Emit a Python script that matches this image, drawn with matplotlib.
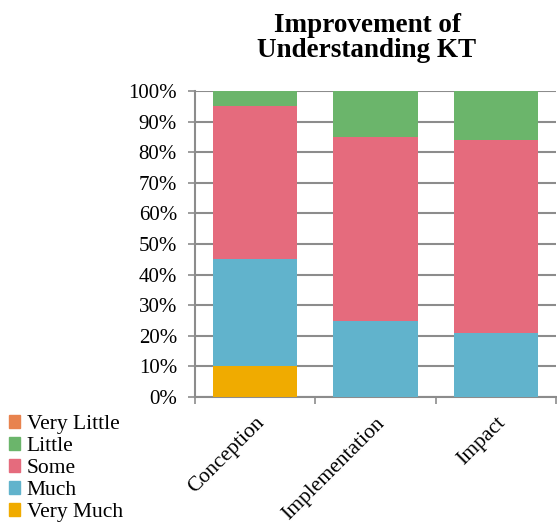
import matplotlib.pyplot as plt
import numpy as np
from matplotlib.patches import Patch
from matplotlib.ticker import PercentFormatter

plt.rcParams['font.family'] = ['Liberation Serif', 'DejaVu Serif']

categories = ['Conception', 'Implementation', 'Impact']
levels = ['Very Much', 'Much', 'Some', 'Little', 'Very Little']
very_much = [10, 0, 0]
much = [35, 25, 21]
some = [50, 60, 63]
little = [5, 15, 16]
very_little = [0, 0, 0]
colors = ['#F0AB00', '#61B3CC', '#E56B7D', '#6BB56B', '#E8834E']

series = [very_much, much, some, little, very_little]

fig = plt.figure(figsize=(5.57, 5.25), dpi=100)
ax = fig.add_axes([195 / 557, 1 - 397 / 525, 361 / 557, 306 / 525])

x = np.arange(len(categories))
bottom = np.zeros(len(categories))
for vals, col in zip(series, colors):
    ax.bar(x, vals, 0.7, bottom=bottom, color=col, zorder=3)
    bottom += np.array(vals)

ax.set_xlim(-0.5, len(categories) - 0.5)
ax.set_ylim(0, 100)
ax.set_yticks(np.arange(0, 101, 10))
ax.yaxis.set_major_formatter(PercentFormatter(decimals=0))
ax.grid(axis='y', color='#8C8C8C', linewidth=1.5, zorder=0)

ax.set_xticks(np.arange(-0.5, len(categories), 1.0))
ax.set_xticklabels([])
ax.set_xticks(x, minor=True)
ax.set_xticklabels(categories, minor=True, rotation=45, ha='right', va='top',
                   rotation_mode='anchor', fontsize=15.5)
ax.tick_params(axis='x', which='minor', length=0, pad=12)
ax.tick_params(axis='x', which='major', length=5, width=1.2, color='#8C8C8C')
ax.tick_params(axis='y', length=5, width=1.2, color='#8C8C8C', labelsize=15, pad=8)

for s in ['top', 'right']:
    ax.spines[s].set_visible(False)
for s in ['left', 'bottom']:
    ax.spines[s].set_color('#8C8C8C')
    ax.spines[s].set_linewidth(1.5)

fig.text(367 / 557, 1 - 38 / 525, 'Improvement of\nUnderstanding KT', ha='center',
         va='center', fontsize=19.5, fontweight='bold', linespacing=1.05)

handles = [Patch(color=c, label=l) for c, l in zip(colors[::-1], levels[::-1])]
fig.legend(handles=handles, loc='lower left', bbox_to_anchor=(0.0, -0.011),
           frameon=False, fontsize=15.5, handlelength=0.55, handleheight=0.55,
           handletextpad=0.3, labelspacing=0.14, borderaxespad=0.0, borderpad=0.4)

fig.savefig('out.png', dpi=100)
